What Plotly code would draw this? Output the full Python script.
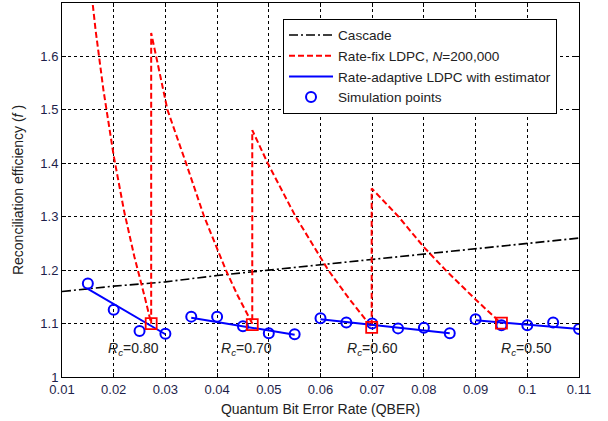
import plotly.graph_objects as go

# Cascade
cascade_x = [0.01, 0.02, 0.03, 0.04, 0.05, 0.06, 0.07, 0.08, 0.09, 0.10, 0.11]
cascade_f = [1.160, 1.170, 1.178, 1.190, 1.200, 1.210, 1.220, 1.230, 1.240, 1.250, 1.260]

# Rate-fix LDPC, N=200,000 (continuous saw-tooth curve)
ratefix_x = [0.0150, 0.0165, 0.0180, 0.0200, 0.0220, 0.0240, 0.0260, 0.02725,
             0.02725, 0.0282, 0.0304, 0.0340, 0.0375, 0.0417, 0.0440, 0.0468,
             0.0468, 0.0498, 0.0552, 0.0615, 0.0655, 0.0699,
             0.0699, 0.0751, 0.0800, 0.0842, 0.0900, 0.0950]
ratefix_f = [1.780, 1.649, 1.538, 1.414, 1.311, 1.225, 1.150, 1.100,
             1.644, 1.600, 1.500, 1.400, 1.300, 1.200, 1.152, 1.100,
             1.462, 1.400, 1.300, 1.200, 1.147, 1.093,
             1.353, 1.300, 1.243, 1.200, 1.145, 1.100]

# Threshold points (squares)
thr_x = [0.02725, 0.0468, 0.0699, 0.0950]
thr_f = [1.100, 1.098, 1.093, 1.101]

# Rate-adaptive LDPC with estimator (one segment per code rate)
adapt_x = [0.015, 0.030, None, 0.035, 0.055, None, 0.060, 0.085, None, 0.090, 0.110]
adapt_f = [1.165, 1.080, None, 1.111, 1.079, None, 1.108, 1.082, None, 1.106, 1.090]

# Simulation points
sim_x = [0.015, 0.020, 0.025, 0.030,
         0.035, 0.040, 0.045, 0.050, 0.055,
         0.060, 0.065, 0.070, 0.075, 0.080, 0.085,
         0.090, 0.095, 0.100, 0.105, 0.110]
sim_f = [1.175, 1.126, 1.086, 1.081,
         1.113, 1.113, 1.095, 1.082, 1.080,
         1.110, 1.102, 1.100, 1.091, 1.092, 1.082,
         1.108, 1.097, 1.097, 1.102, 1.090]

# Code rate labels
rc_labels = ["0.80", "0.70", "0.60", "0.50"]
rc_x = [0.0239, 0.0456, 0.0701, 0.0999]
rc_f = [1.053, 1.053, 1.053, 1.053]

x_ticks = [0.01, 0.02, 0.03, 0.04, 0.05, 0.06, 0.07, 0.08, 0.09, 0.10, 0.11]
x_tick_text = ["0.01", "0.02", "0.03", "0.04", "0.05", "0.06", "0.07", "0.08", "0.09", "0.1", "0.11"]
y_ticks = [1.0, 1.1, 1.2, 1.3, 1.4, 1.5, 1.6]
y_tick_text = ["1", "1.1", "1.2", "1.3", "1.4", "1.5", "1.6"]

FONT = "Liberation Sans, Arial, sans-serif"
TICKCOL = "#1e1e4a"

fig = go.Figure()
fig.add_trace(go.Scatter(x=cascade_x, y=cascade_f, mode="lines", name="Cascade",
                         line=dict(color="black", width=1.6, dash="9px,3px,2px,3px")))
fig.add_trace(go.Scatter(x=ratefix_x, y=ratefix_f, mode="lines",
                         name="Rate-fix LDPC, <i>N</i>=200,000",
                         line=dict(color="#ff0000", width=2, dash="6px,3px")))
fig.add_trace(go.Scatter(x=adapt_x, y=adapt_f, mode="lines",
                         name="Rate-adaptive LDPC with estimator",
                         line=dict(color="#0000ff", width=2)))
fig.add_trace(go.Scatter(x=sim_x, y=sim_f, mode="markers", name="Simulation points",
                         marker=dict(symbol="circle-open", size=10, color="#0000ff",
                                     line=dict(width=2, color="#0000ff"))))
fig.add_trace(go.Scatter(x=thr_x, y=thr_f, mode="markers", showlegend=False,
                         marker=dict(symbol="square-open", size=11, color="#ff0000",
                                     line=dict(width=1.8, color="#ff0000"))))

for lab, xx, yy in zip(rc_labels, rc_x, rc_f):
    fig.add_annotation(x=xx, y=yy, text="<i>R</i><sub><i>c</i></sub>=" + lab,
                       showarrow=False, font=dict(family=FONT, size=14, color="#222222"),
                       bgcolor="rgba(0,0,0,0)")

axis_common = dict(showline=True, linecolor="black", linewidth=1, mirror="allticks",
                   ticks="inside", ticklen=4, tickcolor="black",
                   showgrid=True, gridcolor="black", gridwidth=1, griddash="3px,3px",
                   zeroline=False, automargin=False,
                   tickfont=dict(family=FONT, size=13, color=TICKCOL))

fig.update_xaxes(range=[0.01, 0.11], tickvals=x_ticks, ticktext=x_tick_text,
                 title=dict(text="Quantum Bit Error Rate (QBER)", standoff=8,
                            font=dict(family=FONT, size=14, color="#222222")),
                 **axis_common)
fig.update_yaxes(range=[1.0, 1.7], tickvals=y_ticks, ticktext=y_tick_text,
                 title=dict(text="Reconciliation efficiency (<i>f</i> )", standoff=13,
                            font=dict(family=FONT, size=14, color="#222222")),
                 **axis_common)

fig.update_layout(width=608, height=421, plot_bgcolor="white", paper_bgcolor="white",
                  margin=dict(l=62, r=29, t=3, b=44),
                  font=dict(family=FONT, size=13, color="#222222"),
                  legend=dict(x=0.4275, y=0.958, xanchor="left", yanchor="top",
                              bgcolor="white", bordercolor="black", borderwidth=1,
                              itemwidth=44,
                              font=dict(family=FONT, size=13.6, color="#222222"),
                              tracegroupgap=0))

fig.write_html("out.html", config={"displayModeBar": False},
               post_script="document.body.style.margin='0';document.body.style.padding='0';")
